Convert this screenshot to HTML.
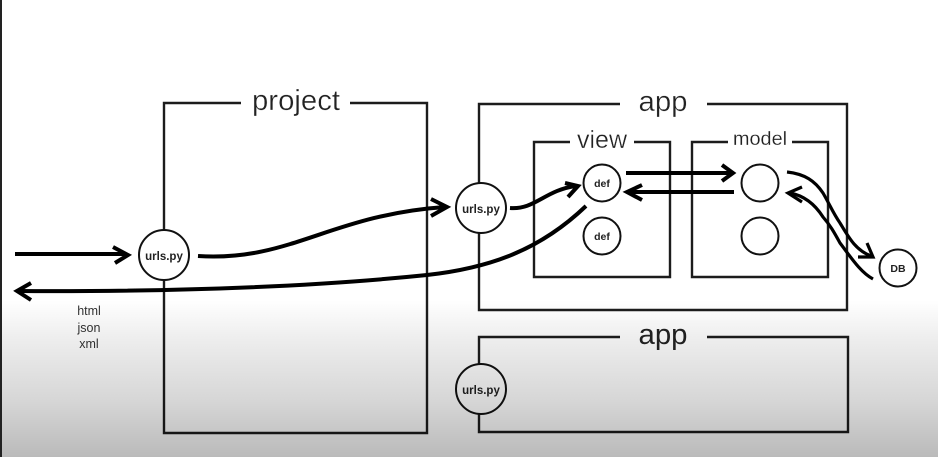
<!DOCTYPE html>
<html lang="en">
<head>
<meta charset="utf-8">
<title>Django project structure</title>
<style>
html,body{margin:0;padding:0;background:#fff;width:938px;height:457px;overflow:hidden}
svg{display:block}
text{font-family:"Liberation Sans",sans-serif;text-anchor:middle}
.t{fill:#222;stroke:#fff;stroke-width:.35px}
.s{fill:#333;font-size:12.5px}
.n{fill:#222;font-weight:bold}
.box{fill:none;stroke:#1c1c1c;stroke-width:2.4;stroke-linejoin:miter}
.c{fill:#fff;stroke:#111;stroke-width:2}
.a{fill:none;stroke:#000;stroke-width:4;stroke-linecap:butt;stroke-linejoin:miter}
.b{fill:none;stroke:#000;stroke-width:3.2;stroke-linecap:butt}
</style>
</head>
<body>
<svg width="938" height="457" viewBox="0 0 938 457" xmlns="http://www.w3.org/2000/svg">
<defs>
<linearGradient id="g" x1="0" y1="0" x2="0" y2="1">
<stop offset="0" stop-color="#000" stop-opacity="0"/>
<stop offset="0.25" stop-color="#000" stop-opacity="0.07"/>
<stop offset="0.64" stop-color="#000" stop-opacity="0.16"/>
<stop offset="1" stop-color="#000" stop-opacity="0.27"/>
</linearGradient>
</defs>
<rect width="938" height="457" fill="#fff"/>

<!-- project -->
<path class="box" d="M241,103 H164 V433 H427 V103 H350"/>
<text class="t" x="296" y="110" font-size="29" textLength="88" lengthAdjust="spacingAndGlyphs">project</text>

<!-- app 1 -->
<path class="box" d="M620,104 H479 V310 H847 V104 H707"/>
<text class="t" x="663" y="111" font-size="29" textLength="49" lengthAdjust="spacingAndGlyphs">app</text>

<!-- view -->
<path class="box" d="M570,142 H534 V277 H670 V142 H634"/>
<text class="t" x="602" y="148" font-size="25" textLength="50" lengthAdjust="spacingAndGlyphs">view</text>

<!-- model -->
<path class="box" d="M728,142 H692 V277 H828 V142 H792"/>
<text class="t" x="760" y="145" font-size="19" textLength="54" lengthAdjust="spacingAndGlyphs" style="stroke-width:.2px">model</text>

<!-- app 2 -->
<path class="box" d="M620,337 H479 V432 H848 V337 H707"/>
<text x="663" y="344" font-size="29" textLength="49" lengthAdjust="spacingAndGlyphs" fill="#222">app</text>

<!-- response labels -->
<text class="s" x="89" y="315">html</text>
<text class="s" x="89" y="332">json</text>
<text class="s" x="89" y="348">xml</text>

<!-- nodes -->
<circle class="c" cx="164" cy="255" r="25"/>
<text class="n" x="164" y="260" font-size="11.5">urls.py</text>
<circle class="c" cx="481" cy="208" r="25"/>
<text class="n" x="481" y="213" font-size="11.5">urls.py</text>
<circle class="c" cx="481" cy="389" r="25"/>
<text class="n" x="481" y="394" font-size="11.5">urls.py</text>
<circle class="c" cx="602" cy="183" r="18.5"/>
<text class="n" x="602" y="187" font-size="10.5">def</text>
<circle class="c" cx="602" cy="236" r="18.5"/>
<text class="n" x="602" y="240" font-size="10.5">def</text>
<circle class="c" cx="760" cy="183" r="18.5"/>
<circle class="c" cx="760" cy="236" r="18.5"/>
<circle class="c" cx="898" cy="268" r="18.5"/>
<text class="n" x="898" y="272" font-size="10.5">DB</text>

<!-- connectors -->
<path class="a" d="M15,254 H126"/>
<path class="a" d="M113,247 L128,255 L115,263"/>

<path class="a" d="M198,256 C290,262 330,215 445,207"/>
<path class="a" d="M431,199 L447,207 L431,216"/>

<path class="a" d="M586,206 C540,250 490,268 427,275 C330,285 200,292 18,291"/>
<path class="a" d="M31,283 L17,291 L31,300"/>

<path class="a" d="M510,208 C535,210 545,190 576,186"/>
<path class="a" d="M565,183 L578,186 L568,197"/>

<path class="a" d="M626,173 H731"/>
<path class="a" d="M722,165 L733,173 L722,181"/>

<path class="a" d="M734,192 H629"/>
<path class="a" d="M642,185 L627,192 L642,200"/>

<path class="b" d="M787,172 C805,174 815,181 823,193 C830,205 833,213 840,223 C848,236 855,250 871,256"/>
<path class="b" d="M858,257 L873,257 L867,243"/>

<path class="b" d="M873,279 C860,272 850,256 840,243 C834,232 830,225 823,217 C816,206 806,196 790,193"/>
<path class="b" d="M802,187 L788,193 L802,202"/>

<!-- video shade and edge -->
<rect y="300" width="938" height="157" fill="url(#g)"/>
<rect x="0" y="0" width="2" height="457" fill="#222"/>
</svg>
</body>
</html>
